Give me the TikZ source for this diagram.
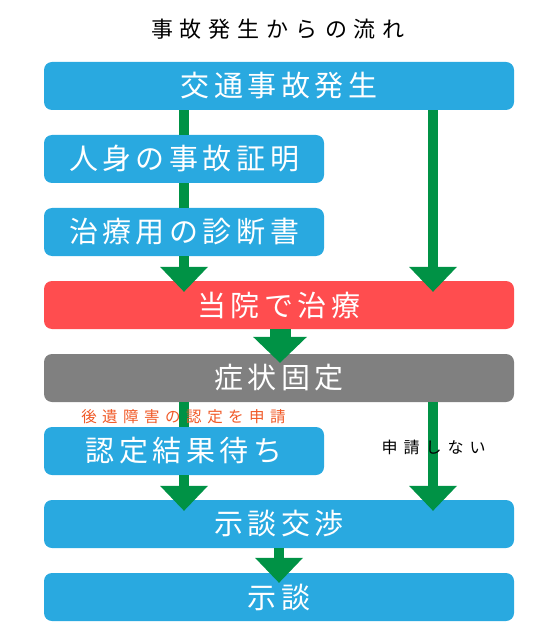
\documentclass[tikz,border=0pt]{standalone}
\usepackage{fontspec}
\usetikzlibrary{arrows.meta,calc}
\newfontfamily\jp{Noto Sans CJK JP}
\definecolor{boxblue}{HTML}{29A9E0}
\definecolor{boxred}{HTML}{FF4D4F}
\definecolor{boxgray}{HTML}{808080}
\definecolor{arrgreen}{HTML}{009245}
\definecolor{labelorange}{HTML}{F05A28}
\makeatletter
\newcommand\lsp[2]{\@tfor\lsp@c:=#2\do{\lsp@c\hspace{#1}}}
\newcommand\lspn[2]{\lsp{#1}{#2}\unskip}
\makeatother
\begin{document}
\begin{tikzpicture}[x=1pt,y=-1pt,
  stepbox/.style={rectangle,rounded corners=8pt,inner sep=0pt,minimum height=48pt,text=white,
    font=\jp\fontsize{29}{32}\selectfont},
  widebox/.style={stepbox,minimum width=470pt},
  narrowbox/.style={stepbox,minimum width=280pt},
  gline/.style={draw=arrgreen,line width=10pt},
  garrow/.style={gline,-{Triangle[width=48pt,length=25pt,line width=0pt]}},
  gbigarrow/.style={draw=arrgreen,line width=21pt,-{Triangle[width=54pt,length=26pt,line width=0pt]}}
]
\useasboundingbox (0,0) rectangle (556,636);
\node[font=\jp\fontsize{22}{24}\selectfont] (title) at (278,29.5) {\lspn{7pt}{事故発生からの流れ}};
\node[widebox,fill=boxblue] (b1) at (279,86) {\lsp{4.5pt}{交通事故発生}};
\node[narrowbox,fill=boxblue] (b2) at (184,159) {\lsp{4.5pt}{人身の事故証明}};
\node[narrowbox,fill=boxblue] (b3) at (184,232) {\lsp{4.5pt}{治療用の診断書}};
\node[widebox,fill=boxred] (b4) at (279,305) {\lsp{4.5pt}{当院で治療}};
\node[widebox,fill=boxgray] (b5) at (279,378) {\lsp{4.5pt}{症状固定}};
\node[narrowbox,fill=boxblue] (b6) at (184,451) {\lsp{4.5pt}{認定結果待ち}};
\node[widebox,fill=boxblue] (b7) at (279,524) {\lsp{4.5pt}{示談交渉}};
\node[widebox,fill=boxblue] (b8) at (279,597) {\lsp{4.5pt}{示談}};
\coordinate (rx) at (433,0);
% connectors
\draw[gline] (b1.south -| b2) -- (b2.north);
\draw[gline] (b2.south) -- (b3.north);
\draw[garrow] (b3.south) -- ($(b4.north -| b3)+(0,11)$);
\draw[garrow] (b1.south -| rx) -- ($(b4.north -| rx)+(0,11)$);
\draw[gbigarrow] ($(b4.south)+(1,0)$) -- ($(b5.north)+(1,9)$);
\draw[gline] (b5.south -| b6) -- (b6.north);
\draw[garrow] (b6.south) -- ($(b7.north -| b6)+(0,11)$);
\draw[garrow] (b5.south -| rx) -- ($(b7.north -| rx)+(0,11)$);
\draw[garrow] (b7.south) -- ($(b8.north)+(0,10)$);
% labels
\node[text=labelorange,font=\jp\fontsize{15.5}{17}\selectfont] (lapply) at (183.5,416.5) {\lspn{5.5pt}{後遺障害の認定を申請}};
\node[text=black,font=\jp\fontsize{16}{18}\selectfont] (lnoapply) at (433.5,447.5) {\lspn{6pt}{申請しない}};
\end{tikzpicture}
\end{document}
